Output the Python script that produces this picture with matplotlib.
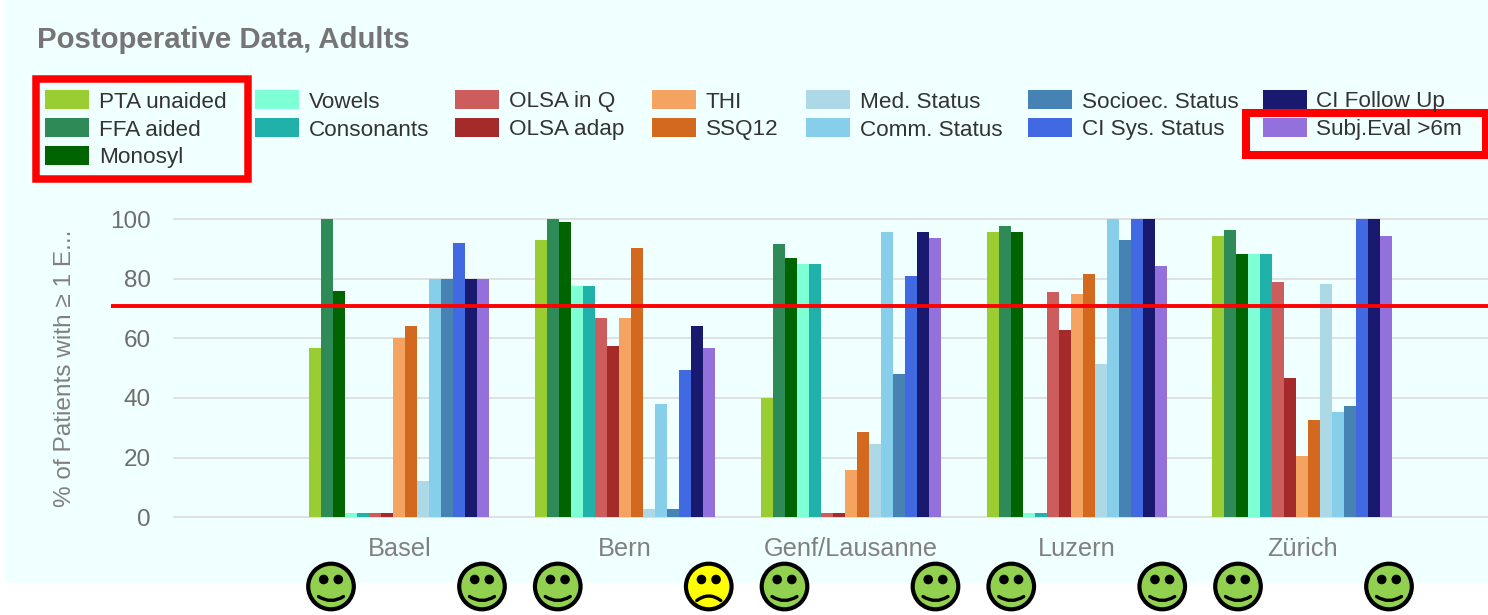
import numpy as np
import matplotlib
matplotlib.use("Agg")
import matplotlib.pyplot as plt
from matplotlib.patches import Rectangle, Circle, PathPatch
from matplotlib.path import Path

plt.rcParams['font.family'] = ['Liberation Sans', 'DejaVu Sans']

# Data
centros = ["Basel", "Bern", "Genf/Lausanne", "Luzern", "Zürich"]

pta_unaided = [56.6, 92.8, 39.9, 95.5, 94.2]
ffa_aided = [100, 100, 91.5, 97.5, 96.2]
monosyl = [76, 98.9, 86.8, 95.5, 88.2]
vowels = [1.6, 77.4, 84.8, 1.5, 88.2]
consonants = [1.6, 77.4, 84.8, 1.5, 88.2]
olsa_q = [1.6, 66.7, 1.5, 75.4, 78.8]
olsa_adap = [1.6, 57.3, 1.5, 62.7, 46.6]
thi = [60, 66.7, 15.8, 74.7, 20.4]
ssq12 = [64, 90.2, 28.5, 81.5, 32.5]
med_status = [12.3, 2.9, 24.5, 51.3, 78.1]
comm_status = [80, 37.9, 95.5, 100, 35.2]
socioec_status = [80, 2.9, 47.9, 92.8, 37.2]
ci_sys_status = [92, 49.3, 80.8, 100, 100]
ci_follow_up = [80, 64, 95.5, 100, 100]
subj_eval = [80, 56.6, 93.5, 84.1, 94.2]

series = [pta_unaided, ffa_aided, monosyl, vowels, consonants, olsa_q, olsa_adap, thi,
          ssq12, med_status, comm_status, socioec_status, ci_sys_status, ci_follow_up, subj_eval]
nombres = ["PTA unaided", "FFA aided", "Monosyl", "Vowels", "Consonants", "OLSA in Q", "OLSA adap", "THI",
           "SSQ12", "Med. Status", "Comm. Status", "Socioec. Status", "CI Sys. Status", "CI Follow Up", "Subj.Eval >6m"]
colores = ["#9ACD32", "#2E8B57", "#006400", "#7FFFD4", "#20B2AA", "#CD5C5C", "#A52A2A", "#F4A460",
           "#D2691E", "#ADD8E6", "#87CEEB", "#4682B4", "#4169E1", "#191970", "#9370DB"]

umbral = 70.8
# cara izq y der de cada centro
caras = [("ok", "ok"), ("ok", "mal"), ("ok", "ok"), ("ok", "ok"), ("ok", "ok")]

W, H = 1488, 615
GRIS = "#757575"

fig = plt.figure(figsize=(W / 100, H / 100), dpi=100, facecolor="white")

# fondo, leyenda y caritas van en pixeles
fondo = fig.add_axes([0, 0, 1, 1], zorder=0)
fondo.set_xlim(0, W)
fondo.set_ylim(H, 0)
fondo.axis("off")
fondo.add_patch(Rectangle((5, 0), W - 5, 583, facecolor="#F0FFFF", edgecolor="none"))

# Grafico
x0_px, x1_px = 173.5, 1488
y0_px, y100_px = 517.3, 219
paso_px = 225.75
centro0_px = 399.3
ax = fig.add_axes([x0_px / W, 1 - y0_px / H, (x1_px - x0_px) / W, (y0_px - y100_px) / H], zorder=1)
ax.patch.set_visible(False)
ax.set_xlim((x0_px - centro0_px) / paso_px, (x1_px - centro0_px) / paso_px)
ax.set_ylim(0, 100)

ancho = 12 / paso_px
pos = np.arange(len(centros))
for i, (vals, col, nom) in enumerate(zip(series, colores, nombres)):
    ax.bar(pos + (i - 7) * ancho, vals, width=ancho, color=col, label=nom, zorder=3, clip_on=False)

for s in ax.spines.values():
    s.set_visible(False)
ax.set_yticks([0, 20, 40, 60, 80, 100])
ax.set_xticks(pos)
ax.set_xticklabels(centros, fontsize=18.3, color="#808080")
ax.tick_params(axis="x", length=0, pad=14.5)
ax.tick_params(axis="y", length=0, pad=16.5, labelsize=17.5, labelcolor="#6e6e6e")
ax.grid(axis="y", color="#DEDEDE", lw=1.3, zorder=1, clip_on=False)
ax.set_axisbelow(True)

# linea roja, parte antes del eje
ax.plot([(111 - centro0_px) / paso_px, ax.get_xlim()[1]], [umbral, umbral], color="#FF0000", lw=2.8,
        zorder=5, clip_on=False, solid_capstyle="butt")

# Encima
top = fig.add_axes([0, 0, 1, 1], zorder=2)
top.set_xlim(0, W)
top.set_ylim(H, 0)
top.axis("off")
top.patch.set_visible(False)

top.text(37, 48, "Postoperative Data, Adults", fontsize=21.2, fontweight="bold", color=GRIS, va="baseline", ha="left")
top.text(65, 368, "% of Patients with ≥ 1 E...", fontsize=17.6, color="#808080", rotation=90, va="center", ha="center")

# leyenda a mano, columnas de distinto largo
columnas_x = [45, 255, 455, 652, 805.5, 1028, 1262.5]
filas_col = [3, 2, 2, 2, 2, 2, 2]
k = 0
for cx, nf in zip(columnas_x, filas_col):
    for f in range(nf):
        y = 90 + f * 28
        top.add_patch(Rectangle((cx, y), 44, 18.5, facecolor=colores[k], edgecolor="none"))
        top.text(cx + 54, y + 17.5, nombres[k], fontsize=16.2, color="#333333", va="baseline", ha="left")
        k += 1

# recuadros rojos
top.add_patch(Rectangle((36, 79), 212, 100, fill=False, edgecolor="#FF0000", lw=5.4))
top.add_patch(Rectangle((1245.5, 113), 240.5, 41.5, fill=False, edgecolor="#FF0000", lw=5.8))


def carita(xc, yc, tipo):
    col = "#92D050" if tipo == "ok" else "#FFFF00"
    top.add_patch(Circle((xc, yc), 22.8, facecolor=col, edgecolor="black", lw=3.0))
    for dx in (-7.3, 7.3):
        top.add_patch(Circle((xc + dx, yc - 7), 4.8, facecolor="black", edgecolor="none"))
    if tipo == "ok":
        pts = [(xc - 12.5, yc + 10), (xc, yc + 18), (xc + 12.5, yc + 10)]
    else:
        pts = [(xc - 12, yc + 14), (xc, yc + 5), (xc + 12, yc + 14)]
    boca = Path(pts, [Path.MOVETO, Path.CURVE3, Path.CURVE3])
    top.add_patch(PathPatch(boca, fill=False, edgecolor="black", lw=2.4, capstyle="round"))


# las caritas no siguen el mismo paso que las barras
for i, (izq, der) in enumerate(caras):
    carita(331 + i * 226.75, 586.5, izq)
    carita(482 + i * 226.75, 586.5, der)

fig.savefig("out.png", dpi=100, facecolor="white")
